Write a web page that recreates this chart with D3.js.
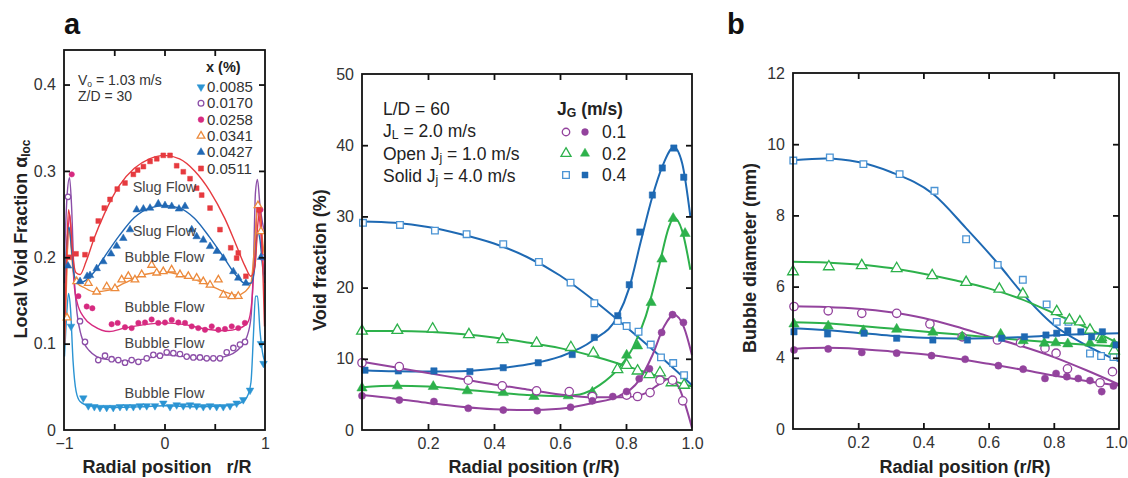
<!DOCTYPE html>
<html>
<head>
<meta charset="utf-8">
<script src="https://cdn.jsdelivr.net/npm/d3@7"></script>
<style>
  body { margin: 0; background: #fff; }
  svg { font-family: "Liberation Sans", Arial, Helvetica, sans-serif; }
  .tick text { fill: #333; }
</style>
</head>
<body>
<div id="chart"></div>
<script>
// ---------- panel a (left): local void fraction ----------
const aLabels = ["0.0085", "0.0170", "0.0258", "0.0341", "0.0427", "0.0511"];
const aFlowLabels = ["Slug Flow", "Slug Flow", "Bubble Flow", "Bubble Flow", "Bubble Flow", "Bubble Flow"];
const aFlowLevels = [0.281, 0.231, 0.200, 0.143, 0.1005, 0.0433];

const a0085 = [[-0.93,0.12],[-0.808,0.037],[-0.758,0.028],[-0.698,0.027],[-0.642,0.026],[-0.575,0.026],[-0.51,0.026],[-0.443,0.027],[-0.376,0.027],[-0.31,0.027],[-0.244,0.028],[-0.177,0.028],[-0.095,0.028],[-0.012,0.031],[0.055,0.027],[0.121,0.029],[0.187,0.028],[0.254,0.029],[0.32,0.028],[0.386,0.027],[0.453,0.028],[0.519,0.027],[0.585,0.027],[0.652,0.028],[0.718,0.031],[0.784,0.035],[0.851,0.046],[0.96,0.1],[0.985,0.077]];
const a0170 = [[-0.96,0.27],[-0.841,0.126],[-0.791,0.102],[-0.659,0.081],[-0.592,0.086],[-0.526,0.082],[-0.46,0.081],[-0.393,0.078],[-0.327,0.081],[-0.26,0.079],[-0.177,0.083],[-0.111,0.087],[-0.045,0.086],[0.022,0.09],[0.088,0.089],[0.154,0.088],[0.221,0.085],[0.287,0.084],[0.353,0.084],[0.42,0.083],[0.486,0.083],[0.552,0.083],[0.619,0.09],[0.685,0.095],[0.751,0.099],[0.801,0.102],[0.975,0.2]];
const a0258 = [[-0.923,0.296],[-0.857,0.155],[-0.774,0.143],[-0.718,0.141],[-0.526,0.1225],[-0.466,0.124],[-0.393,0.119],[-0.327,0.118],[-0.26,0.124],[-0.194,0.1245],[-0.128,0.128],[-0.062,0.124],[0.005,0.1245],[0.072,0.1275],[0.138,0.1245],[0.204,0.124],[0.271,0.12],[0.336,0.118],[0.403,0.116],[0.47,0.12],[0.536,0.116],[0.602,0.117],[0.669,0.12],[0.734,0.118],[0.8,0.124],[0.955,0.255]];
const a0341 = [[-0.97,0.13],[-0.874,0.172],[-0.758,0.17],[-0.675,0.16],[-0.575,0.166],[-0.493,0.164],[-0.426,0.174],[-0.36,0.178],[-0.294,0.174],[-0.227,0.18],[-0.128,0.191],[-0.078,0.182],[-0.012,0.1835],[0.071,0.1855],[0.154,0.18],[0.237,0.178],[0.32,0.176],[0.386,0.172],[0.453,0.168],[0.536,0.174],[0.586,0.1565],[0.669,0.1546],[0.734,0.155],[0.93,0.26],[0.96,0.23]];
const a0427 = [[-0.96,0.19],[-0.84,0.172],[-0.77,0.178],[-0.741,0.179],[-0.675,0.187],[-0.609,0.195],[-0.532,0.204],[-0.476,0.213],[-0.41,0.222],[-0.343,0.232],[-0.277,0.255],[-0.21,0.256],[-0.144,0.257],[-0.062,0.262],[0.005,0.26],[0.072,0.259],[0.144,0.256],[0.204,0.259],[0.271,0.232],[0.32,0.224],[0.386,0.22],[0.453,0.2126],[0.52,0.207],[0.585,0.199],[0.685,0.1835],[0.734,0.176],[0.81,0.17],[0.96,0.2]];
const a0511 = [[-0.95,0.2],[-0.88,0.204],[-0.791,0.203],[-0.718,0.221],[-0.659,0.242],[-0.599,0.257],[-0.542,0.267],[-0.47,0.279],[-0.393,0.286],[-0.31,0.296],[-0.267,0.301],[-0.21,0.305],[-0.144,0.311],[-0.077,0.314],[-0.012,0.318],[0.055,0.318],[0.121,0.306],[0.187,0.299],[0.254,0.291],[0.32,0.28],[0.37,0.272],[0.453,0.257],[0.552,0.232],[0.659,0.211],[0.718,0.199],[0.734,0.205],[0.81,0.178],[0.94,0.255]];

const aFit0085 = [[-0.995,0.085],[-0.975,0.13],[-0.955,0.158],[-0.935,0.14],[-0.91,0.08],[-0.88,0.045],[-0.84,0.033],[-0.75,0.028],[-0.5,0.026],[-0.2,0.027],[0,0.028],[0.3,0.027],[0.6,0.028],[0.75,0.031],[0.82,0.038],[0.86,0.055],[0.885,0.11],[0.905,0.155],[0.925,0.155],[0.95,0.115],[0.975,0.09],[0.995,0.08]];
const aFit0170 = [[-0.995,0.2],[-0.97,0.27],[-0.945,0.292],[-0.925,0.26],[-0.9,0.18],[-0.87,0.135],[-0.83,0.11],[-0.75,0.092],[-0.6,0.082],[-0.4,0.08],[-0.2,0.082],[0,0.087],[0.2,0.085],[0.4,0.082],[0.6,0.085],[0.75,0.095],[0.82,0.108],[0.86,0.13],[0.885,0.19],[0.905,0.275],[0.925,0.29],[0.95,0.26],[0.975,0.24],[0.995,0.23]];
const aFit0258 = [[-0.995,0.12],[-0.97,0.2],[-0.945,0.25],[-0.925,0.22],[-0.9,0.17],[-0.87,0.148],[-0.8,0.13],[-0.7,0.12],[-0.55,0.114],[-0.4,0.118],[-0.2,0.122],[0,0.124],[0.2,0.122],[0.4,0.117],[0.6,0.115],[0.75,0.118],[0.83,0.125],[0.87,0.15],[0.9,0.21],[0.925,0.255],[0.95,0.24],[0.975,0.2],[0.995,0.18]];
const aFit0341 = [[-0.995,0.1],[-0.975,0.17],[-0.955,0.235],[-0.935,0.22],[-0.91,0.185],[-0.87,0.17],[-0.8,0.165],[-0.7,0.16],[-0.55,0.162],[-0.4,0.17],[-0.2,0.18],[0,0.183],[0.2,0.178],[0.4,0.17],[0.6,0.16],[0.72,0.156],[0.8,0.16],[0.86,0.17],[0.9,0.22],[0.925,0.26],[0.95,0.25],[0.975,0.22],[0.995,0.2]];
const aFit0427 = [[-0.995,0.17],[-0.97,0.22],[-0.95,0.235],[-0.925,0.21],[-0.9,0.18],[-0.86,0.17],[-0.8,0.172],[-0.7,0.183],[-0.6,0.2],[-0.45,0.225],[-0.3,0.246],[-0.15,0.257],[0,0.26],[0.15,0.257],[0.3,0.245],[0.45,0.223],[0.6,0.198],[0.72,0.178],[0.8,0.17],[0.86,0.17],[0.9,0.19],[0.925,0.23],[0.95,0.22],[0.975,0.19],[0.995,0.17]];
const aFit0511 = [[-0.995,0.1],[-0.975,0.2],[-0.955,0.255],[-0.935,0.24],[-0.91,0.2],[-0.88,0.182],[-0.84,0.18],[-0.78,0.195],[-0.7,0.222],[-0.6,0.25],[-0.45,0.283],[-0.3,0.303],[-0.15,0.314],[0,0.318],[0.15,0.314],[0.3,0.3],[0.45,0.277],[0.6,0.245],[0.7,0.218],[0.8,0.19],[0.86,0.178],[0.9,0.19],[0.93,0.24],[0.955,0.255],[0.975,0.2],[0.995,0.12]];

const aYTicks = [0, 0.1, 0.2, 0.3, 0.4];
const aXLabels = [-1, 0, 1];
const aXTicks = [-0.5, 0, 0.5];

// ---------- panel middle: void fraction (%) ----------
const bLegendLabels = ["0.1", "0.2", "0.4"];
const bPurpleOpen = [[0,9.45],[0.113,8.9],[0.322,7.0],[0.425,6.2],[0.529,5.5],[0.628,5.4],[0.698,4.7],[0.802,4.9],[0.835,4.7],[0.873,5.25],[0.903,7.0],[0.941,7.0],[0.972,4.1]];
const bPurpleSolid = [[0,4.8],[0.113,4.2],[0.218,4.0],[0.322,3.05],[0.428,2.8],[0.531,2.7],[0.632,3.2],[0.698,4.1],[0.76,4.7],[0.802,5.4],[0.84,7.2],[0.871,8.6],[0.908,13.7],[0.941,16.2],[0.974,15.1]];
const bGreenOpen = [[0,13.9],[0.107,14.0],[0.214,14.2],[0.324,13.4],[0.426,12.7],[0.529,12.2],[0.633,11.6],[0.701,10.8],[0.774,8.5],[0.802,9.1],[0.835,8.3],[0.871,7.8],[0.903,8.05],[0.938,6.65],[0.976,6.3]];
const bGreenSolid = [[0,5.9],[0.107,6.2],[0.216,6.1],[0.319,5.5],[0.428,5.25],[0.521,4.7],[0.625,4.8],[0.698,5.3],[0.802,10.5],[0.835,11.8],[0.876,17.9],[0.909,24.0],[0.943,29.7],[0.979,27.6]];
const bBlueOpen = [[0.003,29.1],[0.115,28.8],[0.221,28.0],[0.317,27.5],[0.428,26.1],[0.536,23.6],[0.632,20.7],[0.704,17.8],[0.775,15.3],[0.802,14.6],[0.838,13.8],[0.875,12.0],[0.906,10.2],[0.943,9.4],[0.976,7.7]];
const bBlueSolid = [[0.009,8.4],[0.11,8.3],[0.218,8.3],[0.327,8.2],[0.428,8.75],[0.534,9.45],[0.637,10.6],[0.704,13.0],[0.775,16.05],[0.81,20.4],[0.842,27.8],[0.88,33.0],[0.91,36.8],[0.945,39.6],[0.975,35.5]];

const bFitPurpleOpen = [[0,9.6],[0.1,8.8],[0.2,8.0],[0.3,7.2],[0.4,6.4],[0.5,5.7],[0.6,5.0],[0.7,4.6],[0.8,4.6],[0.85,5.0],[0.9,6.4],[0.93,7.2],[0.96,6.0],[0.98,3.5],[1.0,0.3]];
const bFitPurpleSolid = [[0,4.9],[0.1,4.4],[0.2,3.8],[0.3,3.25],[0.4,2.9],[0.5,2.8],[0.6,3.0],[0.7,3.8],[0.78,4.8],[0.84,7.0],[0.88,10.5],[0.915,14.5],[0.945,16.2],[0.975,14.5],[1.0,10.5]];
const bFitGreenOpen = [[0,13.9],[0.1,13.9],[0.2,13.8],[0.3,13.5],[0.4,13.0],[0.5,12.3],[0.6,11.5],[0.7,10.4],[0.8,9.0],[0.9,7.5],[1.0,6.1]];
const bFitGreenSolid = [[0,6.0],[0.1,6.2],[0.2,6.1],[0.3,5.7],[0.4,5.3],[0.5,4.9],[0.6,4.75],[0.66,5.0],[0.72,6.3],[0.78,8.8],[0.82,11.5],[0.86,16],[0.9,23],[0.93,28.5],[0.945,29.8],[0.97,28],[0.995,22.5]];
const bFitBlueOpen = [[0,29.3],[0.1,29.1],[0.2,28.5],[0.3,27.5],[0.4,26.2],[0.5,24.3],[0.6,21.7],[0.7,18.3],[0.8,14.5],[0.9,10.5],[1.0,6.3]];
const bFitBlueSolid = [[0,8.4],[0.1,8.25],[0.2,8.2],[0.3,8.25],[0.4,8.6],[0.5,9.2],[0.6,10.3],[0.7,12.6],[0.775,16],[0.81,20],[0.845,26.5],[0.88,32.8],[0.91,37],[0.945,39.7],[0.97,37.5],[0.995,30]];

const bYTicks = [0, 10, 20, 30, 40, 50];
const bXLabels = [0.2, 0.4, 0.6, 0.8, 1.0];
const bXTicks = [0.2, 0.4, 0.6, 0.8];

// ---------- panel b (right): bubble diameter (mm) ----------
const cPurpleOpen = [[0.003,5.44],[0.108,5.32],[0.211,5.25],[0.318,5.25],[0.42,4.95],[0.519,4.59],[0.627,4.5],[0.698,4.42],[0.773,4.27],[0.807,4.13],[0.842,3.69],[0.942,3.3],[0.98,3.61]];
const cPurpleSolid = [[0.003,4.22],[0.108,4.25],[0.211,4.15],[0.318,4.13],[0.425,4.06],[0.528,3.96],[0.63,3.78],[0.706,3.68],[0.773,3.42],[0.807,3.56],[0.84,3.47],[0.875,3.42],[0.911,3.36],[0.947,3.05],[0.983,3.21]];
const cGreenOpen = [[0,6.42],[0.11,6.56],[0.211,6.59],[0.318,6.51],[0.427,6.31],[0.531,6.12],[0.633,5.93],[0.705,5.79],[0.809,5.3],[0.848,5.06],[0.88,5.01],[0.911,4.78],[0.945,4.57],[0.985,4.2]];
const cGreenSolid = [[0.003,4.95],[0.108,4.89],[0.216,4.76],[0.318,4.8],[0.429,4.72],[0.519,4.59],[0.637,4.66],[0.706,4.48],[0.771,4.41],[0.806,4.42],[0.843,4.39],[0.911,4.41],[0.947,4.5],[0.985,4.39]];
const cBlueOpen = [[0.001,9.54],[0.113,9.63],[0.216,9.44],[0.327,9.16],[0.434,8.69],[0.531,7.33],[0.628,6.61],[0.705,6.19],[0.778,5.5],[0.809,5.01],[0.845,5.01],[0.911,4.12],[0.945,4.05],[0.983,4.02]];
const cBlueSolid = [[0.003,4.73],[0.106,4.67],[0.218,4.69],[0.318,4.55],[0.429,4.5],[0.535,4.5],[0.64,4.55],[0.71,4.59],[0.776,4.64],[0.809,4.69],[0.843,4.76],[0.883,4.73],[0.916,4.59],[0.949,4.73],[0.991,4.36]];

const cFitPurpleOpen = [[0,5.45],[0.1,5.43],[0.2,5.38],[0.3,5.28],[0.4,5.12],[0.5,4.88],[0.6,4.6],[0.7,4.33],[0.8,4.02],[0.9,3.65],[1,3.25]];
const cFitPurpleSolid = [[0,4.25],[0.1,4.28],[0.2,4.25],[0.3,4.18],[0.4,4.1],[0.5,3.98],[0.6,3.83],[0.7,3.67],[0.8,3.5],[0.9,3.35],[1,3.22]];
const cFitGreenOpen = [[0,6.7],[0.1,6.68],[0.2,6.62],[0.3,6.52],[0.4,6.36],[0.5,6.17],[0.6,5.95],[0.7,5.65],[0.8,5.25],[0.9,4.85],[1,4.4]];
const cFitGreenSolid = [[0,5.0],[0.1,4.97],[0.2,4.9],[0.3,4.82],[0.4,4.74],[0.5,4.66],[0.6,4.58],[0.7,4.5],[0.8,4.43],[0.9,4.37],[1,4.32]];
const cFitBlueOpen = [[0,9.55],[0.1,9.6],[0.2,9.5],[0.3,9.22],[0.43,8.6],[0.53,7.65],[0.633,6.6],[0.7,5.85],[0.8,4.92],[0.9,4.35],[1,3.9]];
const cFitBlueSolid = [[0,4.83],[0.1,4.78],[0.2,4.7],[0.3,4.62],[0.4,4.56],[0.5,4.54],[0.6,4.55],[0.7,4.58],[0.8,4.63],[0.9,4.67],[1,4.69]];

// the source axis has no "2": the bottom label reads 0
const cYTicks = [2, 4, 6, 8, 10, 12];
const cYLabels = ["0", "4", "6", "8", "10", "12"];
const cXLabels = [0.2, 0.4, 0.6, 0.8, 1.0];
const cXTicks = [0.2, 0.4, 0.6, 0.8];

// ---------- styles ----------
const aColors = ["#2b94d3", "#8c4fa8", "#d62a80", "#ec8a3c", "#2168b4", "#e63a3f"];
const aShapes = ["triDown", "circleOpen", "circle", "triOpen", "tri", "square"];
const purple = "#93439d", green = "#2db14b", blue = "#1e69b3", blueLight = "#4b94d4";

const W = 1128, H = 478;
const svg = d3.select("#chart").append("svg")
  .attr("width", W).attr("height", H);

function marker(sel, shape, color, size) {
  const open = shape.endsWith("Open");
  const base = shape.replace("Open", "");
  const type = base === "square" ? d3.symbolSquare
    : base.startsWith("tri") ? d3.symbolTriangle : d3.symbolCircle;
  sel.attr("d", d3.symbol().type(type).size(size))
    .attr("fill", open ? "#fff" : color)
    .attr("stroke", color)
    .attr("stroke-width", open ? 1.3 : 0.5);
}

function drawPoints(g, pts, x, y, shape, color, size) {
  g.append("g").selectAll("path")
    .data(pts)
    .join("path")
    .call(marker, shape, color, size)
    .attr("transform", d => `translate(${x(d[0])},${y(d[1])})` + (shape === "triDown" ? " rotate(180)" : ""));
}

function drawFit(g, pts, x, y, color, width) {
  g.append("path")
    .datum(pts)
    .attr("fill", "none")
    .attr("stroke", color)
    .attr("stroke-width", width)
    .attr("d", d3.line().x(d => x(d[0])).y(d => y(d[1])).curve(d3.curveMonotoneX));
}

function frame(g, x, y, o) {
  const [x0, x1] = x.range(), [y0, y1] = y.range();
  // inward ticks on all four sides
  g.append("g").attr("transform", `translate(0,${y0})`)
    .call(d3.axisBottom(x).tickValues(o.xTicks).tickSize(-6).tickFormat(""))
    .call(s => s.select(".domain").remove());
  g.append("g").attr("transform", `translate(0,${y1})`)
    .call(d3.axisTop(x).tickValues(o.xTicks).tickSize(-6).tickFormat(""))
    .call(s => s.select(".domain").remove());
  g.append("g").attr("transform", `translate(${x0},0)`)
    .call(d3.axisLeft(y).tickValues(o.yTicks).tickSize(-6).tickFormat(""))
    .call(s => s.select(".domain").remove());
  g.append("g").attr("transform", `translate(${x1},0)`)
    .call(d3.axisRight(y).tickValues(o.yTicks).tickSize(-6).tickFormat(""))
    .call(s => s.select(".domain").remove());
  g.selectAll(".tick line").attr("stroke", "#111").attr("stroke-width", 1.8);
  // labels
  const xl = g.append("g").attr("transform", `translate(0,${y0})`)
    .call(d3.axisBottom(x).tickValues(o.xLabels).tickSize(0).tickPadding(8).tickFormat(o.xFormat))
    .call(s => s.select(".domain").remove());
  xl.selectAll("text").attr("font-size", 16);
  if (o.lastShift) xl.selectAll(".tick:last-of-type text").attr("dx", o.lastShift);
  g.append("g").attr("transform", `translate(${x0},0)`)
    .call(d3.axisLeft(y).tickValues(o.yLabelTicks).tickSize(0).tickPadding(8).tickFormat(o.yFormat))
    .call(s => s.select(".domain").remove())
    .selectAll("text").attr("font-size", 16);
  g.append("rect")
    .attr("x", x0).attr("y", y1).attr("width", x1 - x0).attr("height", y0 - y1)
    .attr("fill", "none").attr("stroke", "#111").attr("stroke-width", 1.8);
}

function yTitle(parts, cx, cy) {
  const t = svg.append("text")
    .attr("transform", `translate(${cx},${cy}) rotate(-90)`)
    .attr("text-anchor", "middle")
    .attr("font-size", 18).attr("font-weight", "bold").attr("fill", "#222");
  parts.forEach(p => {
    const s = t.append("tspan").text(p[0]);
    if (p[1]) s.attr("font-size", 12).attr("baseline-shift", "-25%");
  });
}

function xTitle(txt, cx) {
  svg.append("text")
    .attr("x", cx).attr("y", 473)
    .attr("text-anchor", "middle")
    .attr("font-size", 18).attr("font-weight", "bold").attr("fill", "#222")
    .attr("xml:space", "preserve")
    .text(txt);
}

// ===== panel a =====
const xA = d3.scaleLinear([-1, 1], [64, 265]);
const yA = d3.scaleLinear([0, 0.44], [430, 50]);
const gA = svg.append("g");

const aFits = [aFit0085, aFit0170, aFit0258, aFit0341, aFit0427, aFit0511];
const aPts = [a0085, a0170, a0258, a0341, a0427, a0511];
aFits.forEach((f, i) => drawFit(gA, f, xA, yA, aColors[i], 1.4));
aPts.forEach((p, i) => drawPoints(gA, p, xA, yA, aShapes[i], aColors[i], aShapes[i].startsWith("tri") ? 25 : 23));

gA.append("g").selectAll("text")
  .data(aFlowLabels)
  .join("text")
  .attr("x", xA(0))
  .attr("y", (d, i) => yA(aFlowLevels[i]))
  .attr("dy", "0.35em")
  .attr("text-anchor", "middle")
  .attr("font-size", 14.5)
  .attr("fill", "#444")
  .text(d => d);

frame(gA, xA, yA, {
  xTicks: aXTicks, yTicks: aYTicks.slice(1),
  xLabels: aXLabels, xFormat: d3.format("d"),
  yLabelTicks: aYTicks, yFormat: d => d === 0 ? "0" : d3.format(".1f")(d)
});

// legend a
gA.append("text").attr("x", 206).attr("y", 72)
  .attr("font-size", 14.5).attr("font-weight", "bold").attr("fill", "#222").text("x (%)");
aLabels.forEach((lab, i) => {
  const yy = 92 + i * 16.3;
  gA.append("path")
    .call(marker, aShapes[i], aColors[i], 26)
    .attr("transform", `translate(201,${yy - 5})` + (aShapes[i] === "triDown" ? " rotate(180)" : ""));
  gA.append("text").attr("x", 207).attr("y", yy)
    .attr("font-size", 15).attr("fill", "#333").text(lab);
});
const vt = gA.append("text").attr("x", 78).attr("y", 85).attr("font-size", 14).attr("fill", "#333");
vt.append("tspan").text("V");
vt.append("tspan").attr("font-size", 8.5).attr("baseline-shift", "-20%").text("o");
vt.append("tspan").text(" = 1.03 m/s");
gA.append("text").attr("x", 78).attr("y", 101).attr("font-size", 14).attr("fill", "#333").text("Z/D = 30");

svg.append("text").attr("x", 64).attr("y", 34)
  .attr("font-size", 29).attr("font-weight", "bold").attr("fill", "#111").text("a");
yTitle([["Local Void Fraction \u03b1"], ["loc", true]], 27, 239);
xTitle("Radial position   r/R", 167);

// ===== middle panel =====
const xB = d3.scaleLinear([0, 1], [362, 692]);
const yB = d3.scaleLinear([0, 50], [430, 74]);
const gB = svg.append("g");

const bFits = [[bFitBlueOpen, blue], [bFitBlueSolid, blue], [bFitGreenOpen, green], [bFitGreenSolid, green], [bFitPurpleOpen, purple], [bFitPurpleSolid, purple]];
bFits.forEach(f => drawFit(gB, f[0], xB, yB, f[1], 2));
drawPoints(gB, bBlueOpen, xB, yB, "squareOpen", blueLight, 44);
drawPoints(gB, bBlueSolid, xB, yB, "square", blue, 40);
drawPoints(gB, bGreenOpen, xB, yB, "triOpen", green, 50);
drawPoints(gB, bGreenSolid, xB, yB, "tri", green, 46);
drawPoints(gB, bPurpleOpen, xB, yB, "circleOpen", purple, 55);
drawPoints(gB, bPurpleSolid, xB, yB, "circle", purple, 40);

frame(gB, xB, yB, {
  xTicks: bXTicks, yTicks: bYTicks.slice(1, 5),
  xLabels: bXLabels, xFormat: d3.format(".1f"),
  yLabelTicks: bYTicks, yFormat: d3.format("d")
});

// info text
function subText(g, x, y, parts, size, bold) {
  const t = g.append("text").attr("x", x).attr("y", y)
    .attr("font-size", size).attr("fill", "#222")
    .attr("font-weight", bold ? "bold" : "normal");
  parts.forEach(p => {
    const s = t.append("tspan").text(p[0]);
    if (p[1]) s.attr("font-size", size * 0.7).attr("baseline-shift", "-20%");
  });
}
subText(gB, 383, 115, [["L/D = 60"]], 17.5);
subText(gB, 383, 137, [["J"], ["L", true], [" = 2.0 m/s"]], 17.5);
subText(gB, 383, 160, [["Open J"], ["j", true], [" = 1.0 m/s"]], 17.5);
subText(gB, 383, 182, [["Solid J"], ["j", true], [" = 4.0 m/s"]], 17.5);
subText(gB, 557, 115, [["J"], ["G", true], [" (m/s)"]], 17.5, true);

const bLegShapes = [["circleOpen", "circle", purple, purple], ["triOpen", "tri", green, green], ["squareOpen", "square", blueLight, blue]];
bLegendLabels.forEach((lab, i) => {
  const yy = 132 + i * 21.5;
  gB.append("path").call(marker, bLegShapes[i][0], bLegShapes[i][2], 44)
    .attr("transform", `translate(566,${yy})`);
  gB.append("path").call(marker, bLegShapes[i][1], bLegShapes[i][3], 36)
    .attr("transform", `translate(585,${yy})`);
  gB.append("text").attr("x", 602).attr("y", yy + 6)
    .attr("font-size", 17.5).attr("fill", "#222").text(lab);
});

yTitle([["Void fraction (%)"]], 326, 260);
xTitle("Radial position (r/R)", 534);

// ===== right panel =====
const xC = d3.scaleLinear([0, 1], [793, 1119]);
const yC = d3.scaleLinear([2, 12], [429, 73]);
const gC = svg.append("g");

const cFits = [[cFitBlueOpen, blue], [cFitGreenOpen, green], [cFitPurpleOpen, purple], [cFitPurpleSolid, purple], [cFitGreenSolid, green], [cFitBlueSolid, blue]];
cFits.forEach(f => drawFit(gC, f[0], xC, yC, f[1], 2));
drawPoints(gC, cBlueOpen, xC, yC, "squareOpen", blueLight, 44);
drawPoints(gC, cGreenOpen, xC, yC, "triOpen", green, 50);
drawPoints(gC, cPurpleOpen, xC, yC, "circleOpen", purple, 55);
drawPoints(gC, cPurpleSolid, xC, yC, "circle", purple, 40);
drawPoints(gC, cGreenSolid, xC, yC, "tri", green, 46);
drawPoints(gC, cBlueSolid, xC, yC, "square", blue, 40);

frame(gC, xC, yC, {
  xTicks: cXTicks, yTicks: cYTicks.slice(1, 5),
  xLabels: cXLabels, xFormat: d3.format(".1f"),
  yLabelTicks: cYTicks, yFormat: (d, i) => cYLabels[i],
  lastShift: -3
});

svg.append("text").attr("x", 727).attr("y", 34)
  .attr("font-size", 29).attr("font-weight", "bold").attr("fill", "#111").text("b");
yTitle([["Bubble diameter (mm)"]], 756, 258);
xTitle("Radial position (r/R)", 965);
</script>
</body>
</html>
